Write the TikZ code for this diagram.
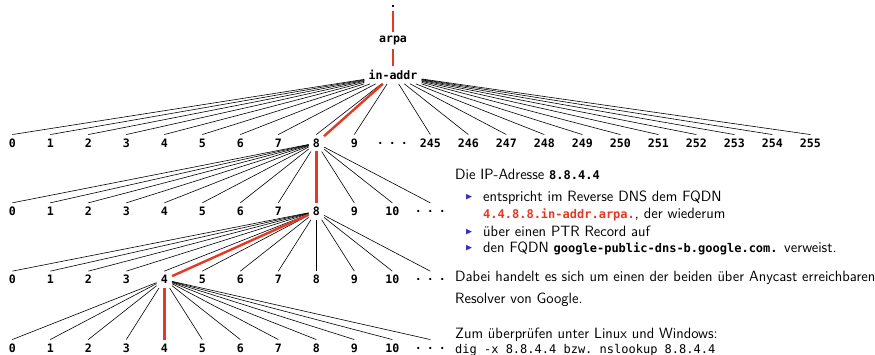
\documentclass[tikz,border=0pt]{standalone}
\usepackage{amssymb}
\usepackage{fontspec}
\setmonofont{DejaVu Sans Mono}
\definecolor{rdnsRed}{RGB}{230,57,36}
\definecolor{rdnsBlue}{rgb}{0.2,0.2,0.7}
\newcommand{\tdots}{·\hspace{5pt}·\hspace{5pt}·}
\newcommand{\tm}[1]{{\ttfamily\fontsize{12}{14}\selectfont #1}}
\tikzset{
  rdns label/.style={font=\ttfamily\bfseries\fontsize{11.6}{14}\selectfont, inner sep=4pt},
  rdns leaf/.style={rdns label, text height=8.5pt, text depth=0pt},
  rdns edge/.style={draw=black, line width=0.6pt},
  rdns hit/.style={draw=rdnsRed, line width=2.4pt},
  rdns text/.style={font=\sffamily\fontsize{14.9}{17}\selectfont, anchor=base west, inner sep=0pt},
  rdns bullet/.style={text=rdnsBlue, font=\fontsize{9.5}{9.5}\selectfont, inner sep=0pt},
}

\begin{document}
\begin{tikzpicture}[x=1pt,y=-1pt]
  \useasboundingbox (0,0) rectangle (875,355);
  % root chain
  \node[rdns label,anchor=base] (root) at (393,7.2) {.};
  \node[rdns label,anchor=base] (arpa) at (393,42.3) {arpa};
  \node[rdns label,anchor=base] (inaddr) at (393,79.5) {in-addr};
  % first level below in-addr
  \foreach \n in {0,...,9}{\node[rdns leaf] (r1-\n) at (12.3+38*\n,143) {\n};
    \draw[rdns edge] (inaddr) -- (r1-\n.north);}
  \node[rdns leaf] (r1-dots) at (12.3+38*10,143) {\tdots};
  \foreach \n in {245,...,255}{\node[rdns leaf] (r1-\n) at (12.3+38*\n-38*234,143) {\n};
    \draw[rdns edge] (inaddr) -- (r1-\n.north);}
  % lower levels
  \foreach \r/\y/\p in {2/211.3/r1-8,3/279.6/r2-8,4/348/r3-4}{
    \foreach \n in {0,...,10}{\node[rdns leaf] (r\r-\n) at (12.3+38*\n,\y) {\n};
      \draw[rdns edge] (\p) -- (r\r-\n.north);}
    \node[rdns leaf] (r\r-dots) at (12.3+38*11,\y) {\tdots};
    \draw[rdns edge] (\p) -- (r\r-dots.north);
  }
  % path of 4.4.8.8
  \draw[rdns hit] (root) -- (arpa);
  \draw[rdns hit] (arpa) -- (inaddr);
  \draw[rdns hit] (inaddr) -- (r1-8);
  \draw[rdns hit] (r1-8) -- (r2-8);
  \draw[rdns hit] (r2-8) -- (r3-4);
  \draw[rdns hit] (r3-4) -- (r4-4);
  % explanation
  \node[rdns text] (t1) at (455,180) {Die IP-Adresse \tm{\bfseries 8.8.4.4}};
  \node[rdns bullet] (b1) at (469,197) {$\blacktriangleright$};
  \node[rdns text] (t2) at (483,202) {entspricht im Reverse DNS dem FQDN};
  \node[rdns text] (t3) at (483,219) {\tm{\bfseries\color{rdnsRed}4.4.8.8.in-addr.arpa.}, der wiederum};
  \node[rdns bullet] (b2) at (469,232) {$\blacktriangleright$};
  \node[rdns text] (t4) at (483,237) {über einen PTR Record auf};
  \node[rdns bullet] (b3) at (469,248) {$\blacktriangleright$};
  \node[rdns text] (t5) at (483,253) {den FQDN \tm{\bfseries google-public-dns-b.google.com.} verweist.};
  \node[rdns text] (t6) at (455,282) {Dabei handelt es sich um einen der beiden über Anycast erreichbaren};
  \node[rdns text] (t7) at (455,303) {Resolver von Google.};
  \node[rdns text] (t8) at (455,338) {Zum überprüfen unter Linux und Windows:};
  \node[rdns text] (t9) at (455,353) {\tm{dig -x 8.8.4.4 bzw. nslookup 8.8.4.4}};
\end{tikzpicture}
\end{document}
